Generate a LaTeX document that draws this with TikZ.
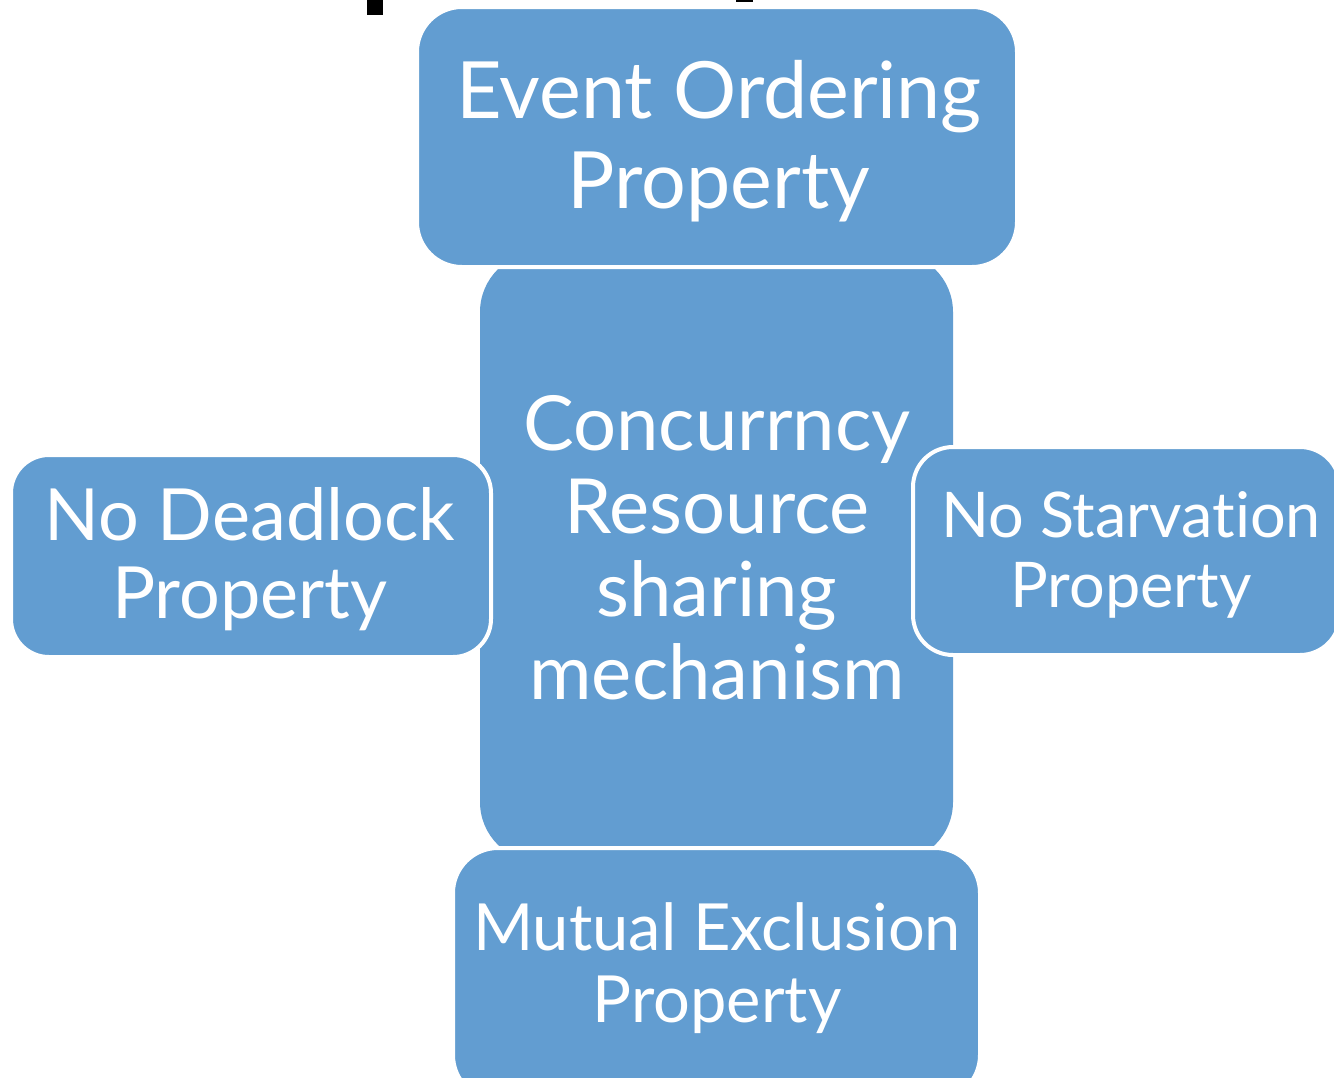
\documentclass[tikz,border=0pt]{standalone}
\usepackage{fontspec}
\setmainfont{Lato}[Ligatures={NoCommon,NoRequired,NoContextual}]
\definecolor{boxblue}{RGB}{98,157,209}
\tikzset{
  propbox/.style={rectangle, fill=boxblue, draw=white, line width=4pt, inner sep=0pt},
  proptext/.style={text=white, align=center, inner sep=0pt},
}
\begin{document}
\begin{tikzpicture}[x=1pt, y=-1pt]
  \useasboundingbox (0,0) rectangle (1334,1077);
  \clip (0,0) rectangle (1334,1077);
  \fill[white] (0,0) rectangle (1334,1077);

  % clipped descenders of the heading above the frame
  \fill[black] (367,0) rectangle (383,15);
  \fill[black] (736,0) rectangle (753,2);

  % central mechanism, partly covered by the four properties
  \node[propbox, draw=none, rounded corners=60pt, minimum width=473pt, minimum height=610pt] (core) at (716.5,557) {};

  \node[propbox, rounded corners=45pt, minimum width=600pt, minimum height=260pt] (evt) at (717,137) {};
  \node[propbox, rounded corners=45pt, minimum width=527pt, minimum height=252pt] (mutex) at (716.5,974) {};
  \node[propbox, rounded corners=38pt, minimum width=480pt, minimum height=202pt] (dead) at (251,556) {};
  \node[propbox, rounded corners=40pt, minimum width=427pt, minimum height=208pt] (starv) at (1126.5,551) {};

  % labels
  \node[proptext, font=\fontsize{79}{90}\selectfont] (t-evt) at (719,141) {Event Ordering\\Property};
  \node[proptext, font=\fontsize{76}{83}\selectfont] (t-core) at (717,548) {Concurrncy\\Resource\\sharing\\mechanism};
  \node[proptext, font=\fontsize{72}{78}\selectfont] (t-dead) at (250,559) {No Deadlock\\Property};
  \node[proptext, font=\fontsize{63}{70}\selectfont] (t-starv) at (1131,555) {No Starvation\\Property};
  \node[proptext, font=\fontsize{65}{72}\selectfont] (t-mutex) at (717,968) {Mutual Exclusion\\Property};
\end{tikzpicture}
\end{document}
